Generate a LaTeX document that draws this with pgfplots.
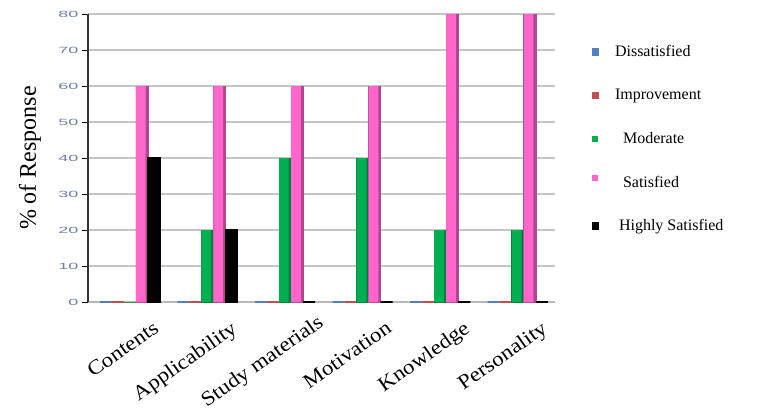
\documentclass[border=0pt]{standalone}
\usepackage{fontspec}
\setmainfont{Liberation Serif}
\newfontfamily\widefont[FakeStretch=1.12]{Liberation Serif}
\newfontfamily\tickfont[FakeStretch=2.0]{Liberation Sans}
\usepackage{pgfplots}
\pgfplotsset{compat=1.18}
\definecolor{cBlue}{HTML}{4F81BD}
\definecolor{cRed}{HTML}{C0504D}
\definecolor{cGreen}{HTML}{00B050}
\definecolor{cGreenD}{HTML}{00803A}
\definecolor{cPink}{HTML}{FF66CC}
\definecolor{cPinkD}{HTML}{B2478F}
\definecolor{cBlack}{HTML}{000000}
\definecolor{cTick}{HTML}{6F7FA8}
\pgfplotstableread{
x dis imp mod sat high
0 0 0 0  60 40
1 0 0 20 60 20
2 0 0 40 60 0
3 0 0 40 60 0
4 0 0 20 80 0
5 0 0 20 80 0
}\datatable
\begin{document}
\begin{tikzpicture}[x=1pt,y=1pt]
\path[use as bounding box] (0,0) rectangle (759,416);
\begin{axis}[
  at={(88pt,114pt)}, anchor=south west,
  scale only axis, width=467pt, height=288pt,
  ybar=0pt, bar width=0.155,
  xmin=-0.54, xmax=5.48, ymin=0, ymax=80,
  xtick={0,1,2,3,4,5},
  xticklabels={Contents,Applicability,Study materials\hspace{-11pt}\mbox{},Motivation,Knowledge,Personality},
  ytick={0,10,...,80},
  axis x line*=bottom, axis y line*=left,
  axis line style={-},
  x axis line style={draw=gray!55, line width=1.5pt},
  y axis line style={draw=black!80, line width=1.3pt},
  xtick style={draw=none},
  ytick style={draw=black, line width=1pt},
  tick align=outside, major tick length=6pt,
  ymajorgrids, grid style={draw=gray!45, line width=1.3pt},
  yticklabel style={font=\tickfont\fontsize{9}{9}\selectfont, text=cTick, xshift=0pt},
  /pgf/number format/assume math mode=true,
  xticklabel style={font=\widefont\fontsize{20.5}{22}\selectfont, rotate=35, anchor=north east, xshift=15pt, yshift=-19pt},
  ylabel={\% of Response},
  ylabel style={font=\fontsize{24}{25}\selectfont, at={(axis description cs:-0.124,0.5)}, anchor=center},
  legend style={at={(axis description cs:1.072,0.905)}, anchor=north west, draw=none, fill=none,
     font=\fontsize{16}{17}\selectfont, row sep=27pt, legend cell align=left},
  clip=false,
]
% Dissatisfied
\addplot[fill=cBlue, draw=cBlue, line width=1.2pt, bar shift=-0.31, legend image code/.code={\fill[cBlue] (0pt,-3pt) rectangle (6pt,3pt);}] table[x=x,y=dis] {\datatable};
\addlegendentry{\hspace{14pt}Dissatisfied}
% Improvement
\addplot[fill=cRed, draw=cRed, line width=1.2pt, bar shift=-0.155, legend image code/.code={\fill[cRed] (0pt,-3pt) rectangle (6pt,3pt);}] table[x=x,y=imp] {\datatable};
\addlegendentry{\hspace{14pt}Improvement}
% Moderate (depth side, then front)
\addplot[fill=cGreenD, draw=cGreenD, line width=0.6pt, bar shift=0, forget plot] table[x=x,y=mod] {\datatable};
\addplot[fill=cGreen, draw=none, bar width=0.125, bar shift=-0.015, legend image code/.code={\fill[cGreen] (0pt,-3pt) rectangle (6pt,3pt);}] table[x=x,y=mod] {\datatable};
\addlegendentry{\hspace{22pt}Moderate}
% Satisfied
\addplot[fill=cPinkD, draw=cPinkD, line width=0.6pt, bar shift=0.155, forget plot] table[x=x,y=sat] {\datatable};
\addplot[fill=cPink, draw=none, bar width=0.125, bar shift=0.14, legend image code/.code={\fill[cPink] (0pt,1pt) rectangle (6pt,7pt);}] table[x=x,y=sat] {\datatable};
\addlegendentry{\hspace{22pt}Satisfied}
% Highly Satisfied
\addplot[fill=cBlack, draw=cBlack, line width=1.2pt, bar shift=0.31, legend image code/.code={\fill[cBlack] (0pt,-3pt) rectangle (6pt,3pt);}] table[x=x,y=high] {\datatable};
\addlegendentry{\hspace{18pt}Highly Satisfied}
\end{axis}
\end{tikzpicture}
\end{document}
